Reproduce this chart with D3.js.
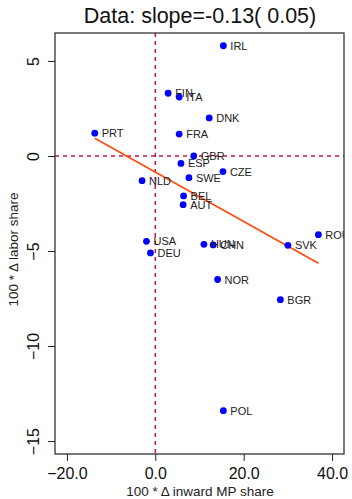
<!DOCTYPE html>
<html>
<head>
<meta charset="utf-8">
<script src="https://cdn.jsdelivr.net/npm/d3@7"></script>
<style>
  html, body { margin: 0; padding: 0; background: #fff; }
  svg { display: block; font-family: "Liberation Sans", Arial, sans-serif; }
</style>
</head>
<body>
<svg id="chart" width="352" height="499"></svg>
<script>
// Country codes and their changes (x: inward MP share, y: labor share), both x100
const countries = ["IRL","FIN","ITA","DNK","PRT","FRA","GBR","ESP","CZE","SWE","NLD","BEL","AUT","USA","DEU","HUN","CHN","SVK","ROU","NOR","BGR","POL"];
const mpShare   = [15.4, 2.9, 5.4, 12.2, -13.7, 5.4, 8.7, 5.8, 15.3, 7.6, -3.0, 6.4, 6.3, -2.0, -1.1, 11.0, 13.1, 30.0, 36.9, 14.1, 28.3, 15.4];
const laborShare= [5.8, 3.3, 3.1, 2.0, 1.2, 1.15, 0.0, -0.39, -0.82, -1.14, -1.3, -2.1, -2.56, -4.49, -5.1, -4.65, -4.68, -4.7, -4.14, -6.5, -7.56, -13.4];

// Fitted line
const fitSlope = -0.13;
const fitIntercept = -0.85;
const titleText = "Data: slope=-0.13( 0.05)";

const xTicks = [-20, 0, 20, 40];
const yTicks = [5, 0, -5, -10, -15];

const margin = { left: 55, top: 33, right: 8, bottom: 45 };
const W = 352, H = 499;

const svg = d3.select("#chart");

const x = d3.scaleLinear().domain([-22.7, 42.7]).range([margin.left, W - margin.right]);
const y = d3.scaleLinear().domain([-15.68, 6.47]).range([H - margin.bottom, margin.top]);

const data = countries.map((c, i) => ({ c, x: mpShare[i], y: laborShare[i] }));

svg.append("defs").append("clipPath").attr("id", "plotClip")
  .append("rect")
  .attr("x", margin.left).attr("y", margin.top)
  .attr("width", W - margin.right - margin.left)
  .attr("height", H - margin.bottom - margin.top);

const plot = svg.append("g").attr("clip-path", "url(#plotClip)");

// Reference lines at zero
const refColor = "#c8144a";
plot.append("line")
  .attr("x1", x(0)).attr("x2", x(0))
  .attr("y1", margin.top).attr("y2", H - margin.bottom)
  .attr("stroke", refColor).attr("stroke-width", 1.5)
  .attr("stroke-dasharray", "4,4");
plot.append("line")
  .attr("x1", margin.left).attr("x2", W - margin.right)
  .attr("y1", y(0)).attr("y2", y(0))
  .attr("stroke", refColor).attr("stroke-width", 1.5)
  .attr("stroke-dasharray", "4,4");

// Regression line across the data range
const [xmin, xmax] = d3.extent(mpShare);
plot.append("line")
  .attr("x1", x(xmin)).attr("y1", y(fitIntercept + fitSlope * xmin))
  .attr("x2", x(xmax)).attr("y2", y(fitIntercept + fitSlope * xmax))
  .attr("stroke", "#ff4a0a").attr("stroke-width", 1.6);

// Points
plot.selectAll("circle.pt").data(data).enter().append("circle")
  .attr("class", "pt")
  .attr("cx", d => x(d.x)).attr("cy", d => y(d.y))
  .attr("r", 3.4).attr("fill", "#0000ff");

// Labels
plot.selectAll("text.lab").data(data).enter().append("text")
  .attr("class", "lab")
  .attr("x", d => x(d.x) + 7).attr("y", d => y(d.y) + 4)
  .attr("font-size", 11).attr("fill", "#222")
  .text(d => d.c);

// Frame
svg.append("rect")
  .attr("x", margin.left).attr("y", margin.top)
  .attr("width", W - margin.right - margin.left)
  .attr("height", H - margin.bottom - margin.top)
  .attr("fill", "none").attr("stroke", "#333").attr("stroke-width", 1.3);

// X axis
const xAxis = svg.append("g")
  .attr("transform", `translate(0,${H - margin.bottom})`)
  .call(d3.axisBottom(x).tickValues(xTicks).tickSize(7).tickSizeOuter(0).tickFormat(d3.format(".1f")));
xAxis.select(".domain").remove();
xAxis.selectAll("line").attr("stroke", "#222");
xAxis.selectAll("text").attr("font-size", 16).attr("fill", "#111").attr("dy", "0.95em")
  .attr("font-family", "Liberation Sans, Arial, sans-serif");

// Y axis (rotated labels)
const yAxis = svg.append("g")
  .attr("transform", `translate(${margin.left},0)`)
  .call(d3.axisLeft(y).tickValues(yTicks).tickSize(7).tickSizeOuter(0).tickFormat(d3.format("d")));
yAxis.select(".domain").remove();
yAxis.selectAll("line").attr("stroke", "#222");
yAxis.selectAll("text")
  .attr("font-size", 16).attr("fill", "#111")
  .attr("font-family", "Liberation Sans, Arial, sans-serif")
  .attr("x", null).attr("dy", null)
  .attr("text-anchor", "middle")
  .attr("transform", "translate(-16,0) rotate(-90)");

// Axis titles
svg.append("text")
  .attr("x", 200).attr("y", 496)
  .attr("text-anchor", "middle").attr("font-size", 13.5).attr("fill", "#222")
  .text("100 * \u0394 inward MP share");

svg.append("text")
  .attr("transform", `translate(18,${(margin.top + H - margin.bottom) / 2 + 6}) rotate(-90)`)
  .attr("text-anchor", "middle").attr("font-size", 13.5).attr("fill", "#222")
  .text("100 * \u0394 labor share");

// Title
svg.append("text")
  .attr("x", 200).attr("y", 23)
  .attr("text-anchor", "middle").attr("font-size", 21.5).attr("fill", "#111")
  .text(titleText);
</script>
</body>
</html>
